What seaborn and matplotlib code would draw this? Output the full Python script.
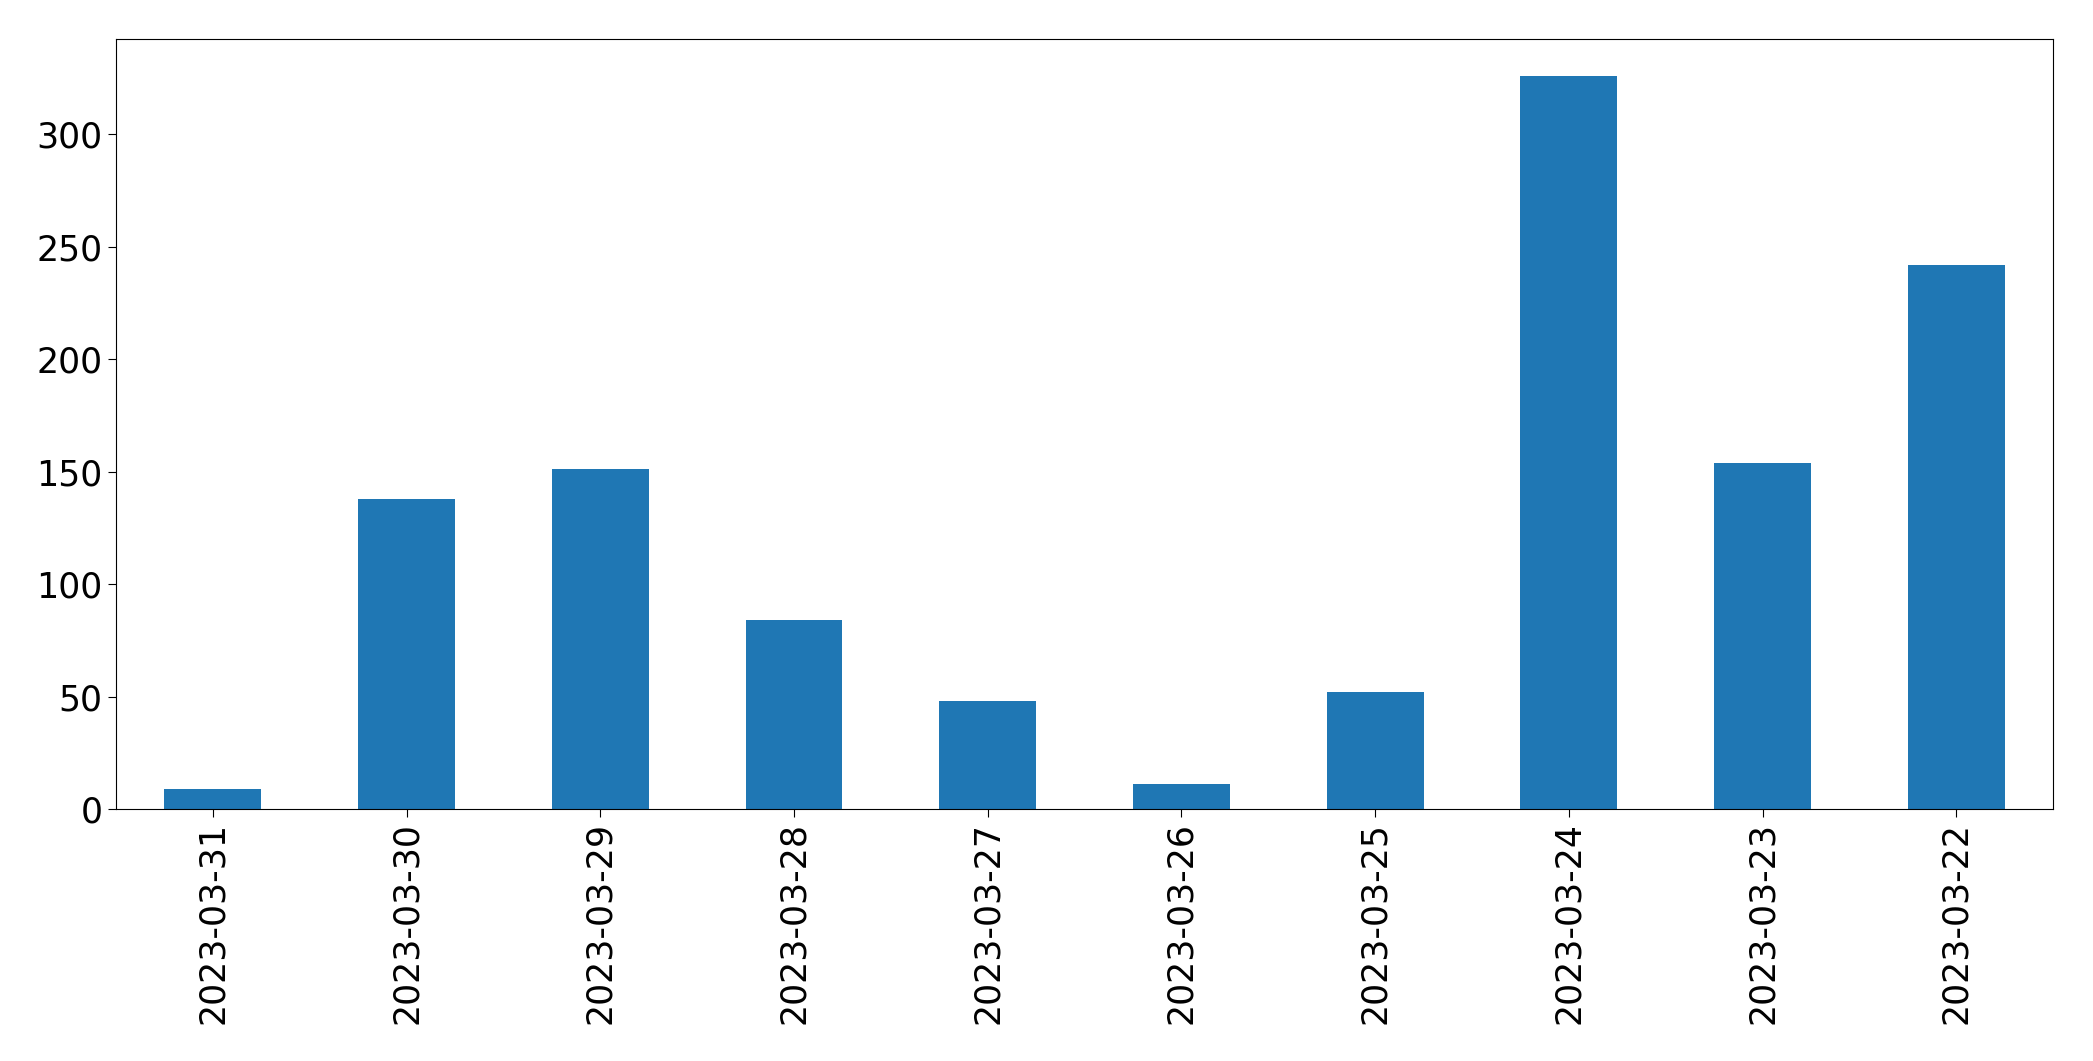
import pandas as pd
import matplotlib
matplotlib.use('Agg')
import matplotlib.pyplot as plt
import seaborn as sns

# Daily counts
dates = ['2023-03-31', '2023-03-30', '2023-03-29', '2023-03-28', '2023-03-27',
         '2023-03-26', '2023-03-25', '2023-03-24', '2023-03-23', '2023-03-22']
counts = [9, 138, 151, 84, 48, 11, 52, 326, 154, 242]

df = pd.DataFrame({'date': dates, 'count': counts})

plt.rcParams['font.family'] = ['DejaVu Sans']
plt.rcParams['font.size'] = 25

fig, ax = plt.subplots(figsize=(20.93, 10.61), dpi=100)
sns.barplot(data=df, x='date', y='count', order=dates, color='#1f77b4',
            saturation=1, width=0.5, ax=ax)

ax.set_xlim(-0.5, len(dates) - 0.5)
ax.set_ylim(0, max(counts) * 1.05)
ax.set_xlabel('')
ax.set_ylabel('')
ax.tick_params(axis='both', labelsize=25, length=6)
ax.tick_params(axis='x', labelrotation=90)

plt.subplots_adjust(left=0.0554, right=0.981, top=0.963, bottom=0.2375)
fig.savefig('out.png', dpi=100)
